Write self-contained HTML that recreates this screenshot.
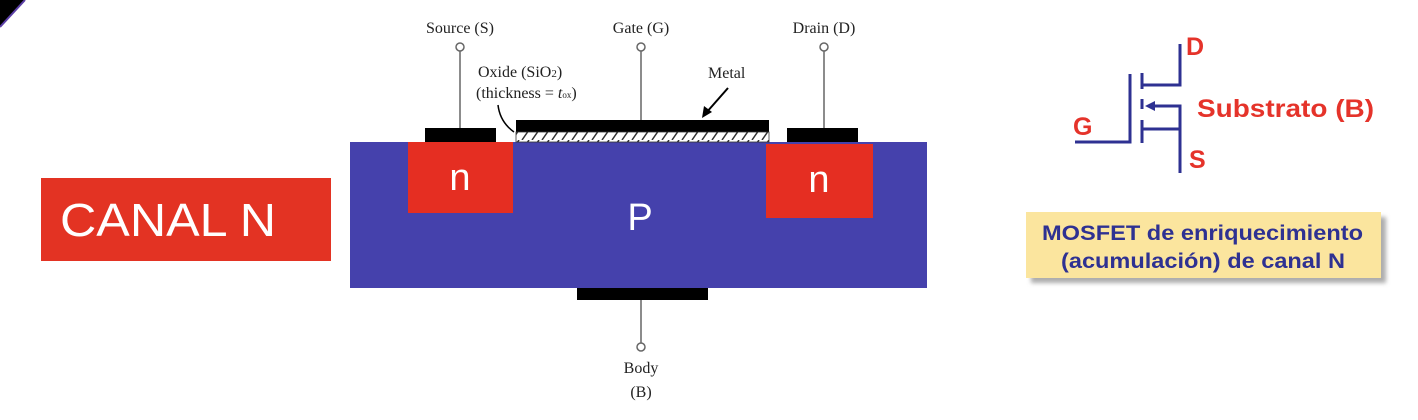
<!DOCTYPE html>
<html><head><meta charset="utf-8"><style>
html,body{margin:0;padding:0;background:#fff;width:1418px;height:420px;overflow:hidden}
svg{display:block}
</style></head><body>
<svg width="1418" height="420" viewBox="0 0 1418 420" xmlns="http://www.w3.org/2000/svg">
<defs>
<pattern id="hatch" width="10" height="10" patternUnits="userSpaceOnUse"><rect width="10" height="10" fill="#fff"/><line x1="2" y1="10" x2="9" y2="0" stroke="#333" stroke-width="1.5"/></pattern>
<filter id="sh" x="-5%" y="-10%" width="115%" height="130%"><feDropShadow dx="5" dy="5" stdDeviation="2" flood-color="#777" flood-opacity="0.6"/></filter>
</defs>
<polygon points="0,0 25,0 0,27" fill="#000"/>
<line x1="25" y1="0" x2="0" y2="27" stroke="#5b3fa6" stroke-width="2"/>
<g>
<rect x="41" y="178" width="290" height="83" fill="#e33323"/>
<text x="60" y="236" fill="#fff" font-family="Liberation Sans, sans-serif" font-size="46" textLength="216" lengthAdjust="spacingAndGlyphs">CANAL N</text>
</g>
<g font-family="Liberation Serif, serif" fill="#222">
<rect x="350" y="142" width="577" height="146" fill="#4541ac"/>
<rect x="408" y="142" width="105" height="71" fill="#e52e22"/>
<rect x="766" y="144" width="107" height="74" fill="#e52e22"/>
<rect x="425" y="128" width="71" height="14" fill="#000"/>
<rect x="516" y="120" width="253" height="12" fill="#000"/>
<rect x="516" y="132" width="253" height="10" fill="url(#hatch)" stroke="#333" stroke-width="0.8"/>
<rect x="787" y="128" width="71" height="14" fill="#000"/>
<rect x="577" y="288" width="131" height="12" fill="#000"/>
<g stroke="#666" stroke-width="1.5" fill="#fff">
<line x1="460" y1="51" x2="460" y2="128"/><circle cx="460" cy="47" r="4"/>
<line x1="641" y1="51" x2="641" y2="120"/><circle cx="641" cy="47" r="4"/>
<line x1="824" y1="51" x2="824" y2="128"/><circle cx="824" cy="47" r="4"/>
<line x1="641" y1="300" x2="641" y2="343"/><circle cx="641" cy="347" r="4"/>
</g>
<text x="460" y="33" font-size="16" text-anchor="middle">Source (S)</text>
<text x="641" y="33" font-size="16" text-anchor="middle">Gate (G)</text>
<text x="824" y="33" font-size="16" text-anchor="middle">Drain (D)</text>
<text x="478" y="77" font-size="16">Oxide (SiO<tspan font-size="11">2</tspan>)</text>
<text x="476" y="98" font-size="16">(thickness = <tspan font-style="italic">t</tspan><tspan font-size="9">ox</tspan>)</text>
<text x="708" y="78" font-size="16">Metal</text>
<path d="M728 88 L706 113" stroke="#000" stroke-width="2"/>
<polygon points="702,118 704,106 712,112" fill="#000"/>
<path d="M498 105 Q500 122 514 132" stroke="#000" stroke-width="1.5" fill="none"/>
<text x="641" y="373" font-size="16" text-anchor="middle">Body</text>
<text x="641" y="397" font-size="16" text-anchor="middle">(B)</text>
<text x="460" y="190" font-size="38" fill="#fff" font-family="Liberation Sans, sans-serif" text-anchor="middle">n</text>
<text x="819" y="192" font-size="38" fill="#fff" font-family="Liberation Sans, sans-serif" text-anchor="middle">n</text>
<text x="640" y="230" font-size="38" fill="#fff" font-family="Liberation Sans, sans-serif" text-anchor="middle">P</text>
</g>
<g stroke="#2e3192" stroke-width="3" fill="none">
<polyline points="1075,142 1130,142 1130,74"/>
<line x1="1142" y1="73" x2="1142" y2="89"/>
<line x1="1142" y1="99" x2="1142" y2="109"/>
<line x1="1142" y1="120" x2="1142" y2="143"/>
<polyline points="1142,85 1180,85 1180,44"/>
<polyline points="1150,106 1180,106 1180,129"/>
<polyline points="1142,129 1180,129 1180,173"/>
<polygon points="1145,106 1155,101 1155,111" fill="#2e3192" stroke="none"/>
</g>
<g font-family="Liberation Sans, sans-serif" font-weight="bold" fill="#e5332a" font-size="25">
<text x="1186" y="55">D</text>
<text x="1197" y="117" textLength="177" lengthAdjust="spacingAndGlyphs">Substrato (B)</text>
<text x="1073" y="135">G</text>
<text x="1189" y="168">S</text>
</g>
<g>
<rect x="1026" y="212" width="355" height="66" fill="#fbe59e" filter="url(#sh)"/>
<text x="1042" y="240" font-family="Liberation Sans, sans-serif" font-weight="bold" font-size="21" fill="#2e3192" textLength="321" lengthAdjust="spacingAndGlyphs">MOSFET de enriquecimiento</text>
<text x="1061" y="268" font-family="Liberation Sans, sans-serif" font-weight="bold" font-size="21" fill="#2e3192" textLength="284" lengthAdjust="spacingAndGlyphs">(acumulación) de canal N</text>
</g>
</svg>
</body></html>
